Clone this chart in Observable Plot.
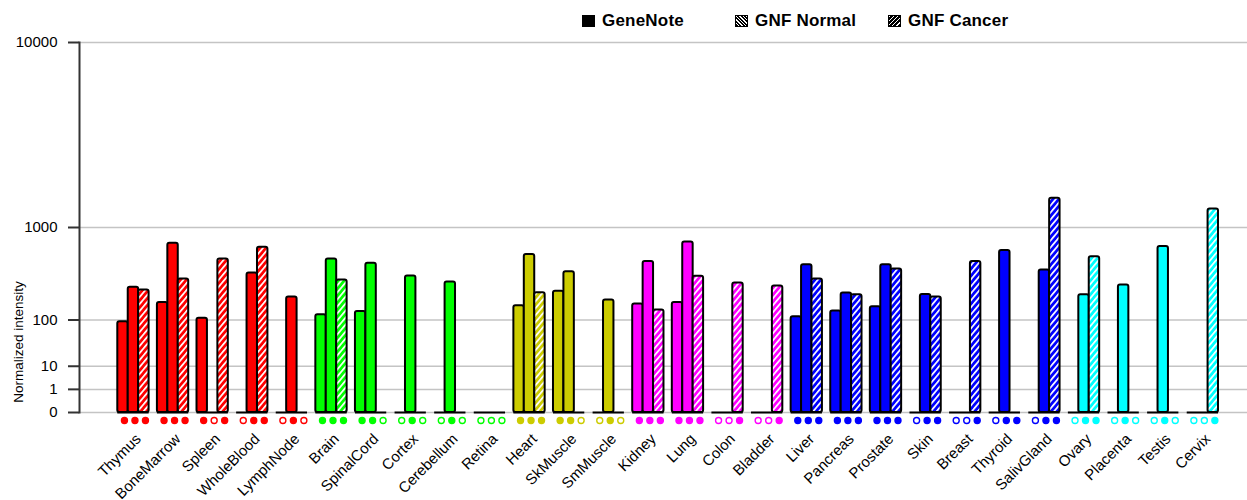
<!DOCTYPE html>
<html><head><meta charset="utf-8">
<script src="https://cdn.jsdelivr.net/npm/d3@7"></script>
<script src="https://cdn.jsdelivr.net/npm/@observablehq/plot@0.6"></script>
<style>
body{margin:0;background:#fff;font-family:Arial,"Liberation Sans",sans-serif}
#wrap{position:relative;width:1247px;height:500px;overflow:hidden}
.lg{position:absolute;top:12px;font-weight:bold;font-size:17px;line-height:18px;letter-spacing:0.2px;display:flex;align-items:center;white-space:nowrap}
.sw{width:13px;height:12px;margin-right:7px;box-sizing:border-box;border:1px solid #000}
#ylab{position:absolute;left:18px;top:342px;transform:translate(-50%,-50%) rotate(-90deg);font-size:13.5px;white-space:nowrap}
</style></head><body>
<div id="wrap">
  <div class="lg" style="left:582px"><div class="sw" style="background:#000"></div>GeneNote</div>
  <div class="lg" style="left:735px"><div class="sw" style="background:repeating-linear-gradient(45deg,#000 0 1.5px,#fff 1.5px 2.5px)"></div>GNF Normal</div>
  <div class="lg" style="left:888px"><div class="sw" style="background:repeating-linear-gradient(-45deg,#000 0 2px,#fff 2px 3px)"></div>GNF Cancer</div>
  <div id="ylab">Normalized intensity</div>
</div>
<script>
const tissues = ["Thymus","BoneMarrow","Spleen","WholeBlood","LymphNode","Brain","SpinalCord","Cortex","Cerebellum","Retina","Heart","SkMuscle","SmMuscle","Kidney","Lung","Colon","Bladder","Liver","Pancreas","Prostate","Skin","Breast","Thyroid","SalivGland","Ovary","Placenta","Testis","Cervix"];
const groupOf = [0,0,0,0,0,1,1,1,1,1,2,2,2,3,3,3,3,4,4,4,4,4,4,4,5,5,5,5];
const groupColors = ["#ff0000","#00ff00","#cccc00","#ff00ff","#0000ff","#00ffff"];
const geneNote  = [94,178,106,0,0,120,134,0,0,0,161,245,0,170,178,0,0,112,136,156,0,0,0,0,0,0,0,0];
const gnfNormal = [273,743,0,392,209,538,489,364,314,0,591,404,192,508,763,0,0,475,234,475,225,0,642,421,223,291,696,0];
const gnfCancer = [254,339,538,686,0,330,0,0,0,0,236,0,0,141,361,306,283,339,223,431,209,508,0,1629,566,0,0,1375];
const presence  = ["111","111","101","011","010","111","110","010","010","000","111","110","010","111","111","001","001","111","111","111","011","001","011","011","011","010","010","001"];
const yTicks = [0,1,10,100,1000,10000];
const seriesNames = ["GeneNote","GNF Normal","GNF Cancer"];

const series = [geneNote, gnfNormal, gnfCancer];
const rows = [];
tissues.forEach((t, i) => series.forEach((s, k) => rows.push({tissue: t, group: groupOf[i], series: k, value: s[i], present: presence[i][k] === "1"})));

const bw = 31.3; // band width (px) of the x scale below
const barMarks = [], dotMarks = [];
groupColors.forEach((c, g) => {
  [0,1,2].forEach(k => {
    const fill = k === 2 ? `url(#hatch${g})` : c;
    barMarks.push(Plot.barY(rows.filter(r => r.group === g && r.series === k && r.value > 0), {
      x: "tissue", y: "value", fill, stroke: "#000", strokeWidth: 2, rx: 2,
      insetLeft: k * bw / 3, insetRight: (2 - k) * bw / 3
    }));
    const dr = rows.filter(r => r.group === g && r.series === k);
    dotMarks.push(Plot.dot(dr, {
      x: "tissue", y: () => 0, dy: 8, dx: (k - 1) * 10.5 + 1.5, r: 3,
      stroke: c, strokeWidth: 1.4, fill: d => d.present ? c : "#fff"
    }));
  });
});

const svg = Plot.plot({
  width: 1247, height: 500,
  marginTop: 42, marginBottom: 88, marginLeft: 79, marginRight: 0,
  style: {fontFamily: "Arial, 'Liberation Sans', sans-serif", background: "transparent", overflow: "visible"},
  x: {domain: tissues, range: [117.3, 1218], paddingInner: 0.21, paddingOuter: 0, round: false, axis: null},
  y: {type: "pow", exponent: Math.log10(2), domain: [0, 10000], axis: null},
  color: {type: "identity"},
  marks: [
    Plot.gridY(yTicks, {stroke: "#c4c4c4", strokeOpacity: 1, strokeWidth: 1.5}),
    Plot.axisY(yTicks, {tickSize: 11, tickPadding: 11, fontSize: 15, tickFormat: d => String(d), label: null, stroke: "#333", strokeWidth: 2}),
    Plot.frame({anchor: "left", stroke: "#333", strokeWidth: 2}),
    Plot.tickY(tissues, {x: d => d, y: () => 0, stroke: "#000", strokeWidth: 2}),
    ...barMarks,
    ...dotMarks,
    Plot.text(tissues, {x: d => d, y: () => 0, text: d => d, rotate: -45, textAnchor: "end", dx: 5, dy: 24, fontSize: 15, fill: "#000"})
  ]
});

const ns = "http://www.w3.org/2000/svg";
const defs = document.createElementNS(ns, "defs");
groupColors.forEach((c, g) => {
  const p = document.createElementNS(ns, "pattern");
  p.setAttribute("id", `hatch${g}`);
  p.setAttribute("patternUnits", "userSpaceOnUse");
  p.setAttribute("width", "4.5"); p.setAttribute("height", "4.5");
  p.setAttribute("patternTransform", "rotate(40)");
  const r1 = document.createElementNS(ns, "rect");
  r1.setAttribute("width", "4.5"); r1.setAttribute("height", "4.5"); r1.setAttribute("fill", c);
  const r2 = document.createElementNS(ns, "rect");
  r2.setAttribute("width", "1.7"); r2.setAttribute("height", "4.5"); r2.setAttribute("fill", "#fff");
  p.appendChild(r1); p.appendChild(r2); defs.appendChild(p);
});
svg.insertBefore(defs, svg.firstChild);
svg.style.position = "absolute"; svg.style.left = "0"; svg.style.top = "0";
document.getElementById("wrap").prepend(svg);
</script>
</body></html>
